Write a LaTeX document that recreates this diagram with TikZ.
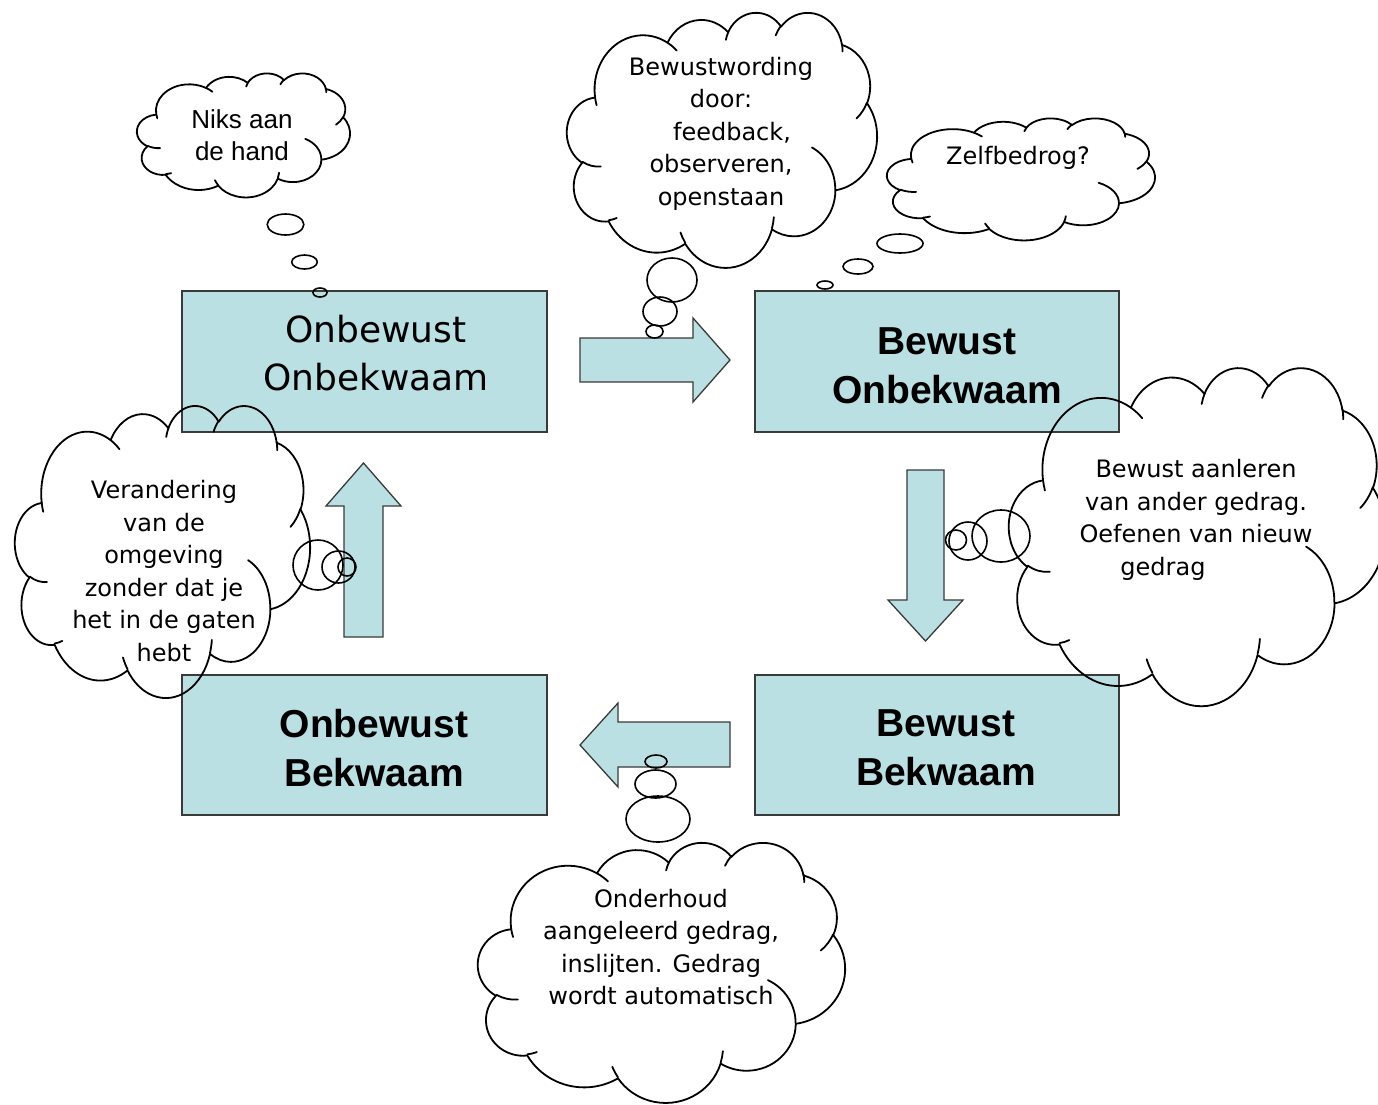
\documentclass[tikz,border=0pt]{standalone}
\usepackage{fontspec}
\setmainfont{DejaVu Sans}
\newfontfamily\arialfont{Liberation Sans}

\definecolor{boxfill}{RGB}{187,224,228}
\definecolor{boxline}{RGB}{58,58,58}

\tikzset{
  % elliptical arc given as radii, start angle and sweep on the ellipse (true angles)
  pp/.code n args={4}{%
    \pgfmathsetmacro\ppS{atan2((#1)*sin(#3),(#2)*cos(#3))}%
    \pgfmathsetmacro\ppE{atan2((#1)*sin((#3)+(#4)),(#2)*cos((#3)+(#4)))}%
    \pgfmathsetmacro\ppD{\ppE-(\ppS)}%
    \pgfmathsetmacro\ppD{\ppD<0 ? \ppD+360 : \ppD}%
    \tikzset{x radius=#1, y radius=#2, start angle=\ppS, delta angle=\ppD}},
  cloudline/.style={draw=black, line width=1.8pt, line join=round},
  bubble/.style={draw=black, line width=1.6pt},
  stagebox/.style={draw=boxline, line width=1.5pt, fill=boxfill, inner sep=0pt},
  blockarrow/.style={draw=boxline, line width=1.3pt, fill=boxfill, line join=miter},
  stagetext/.style={font=\arialfont\bfseries\fontsize{39}{48.5}\selectfont, align=center, inner sep=0pt},
  stagetextlight/.style={font=\fontsize{36}{48}\selectfont, align=center, inner sep=0pt},
  thought/.style={font=\fontsize{24}{32.5}\selectfont, align=center, inner sep=0pt},
  thoughtarial/.style={font=\arialfont\fontsize{26}{32}\selectfont, align=center, inner sep=0pt},
}

% cloud outline with its inner strokes, placed in a box given by left, top, width, height
\newcommand\thoughtcloud[4]{%
  \pgfmathsetmacro\cloudsx{#3/432}%
  \pgfmathsetmacro\cloudsy{#4/432}%
  \begin{scope}[shift={(#1,#2)}, x=\cloudsx pt, y=-\cloudsy pt]
    \draw[cloudline] (39.00,143.70)
      arc[pp={67.53}{91.90}{-190.48748}{123.78053}]
      arc[pp={53.33}{72.67}{-144.10238}{89.94523}]
      arc[pp={43.65}{59.45}{-145.80792}{99.72302}]
      arc[pp={48.57}{65.95}{-130.98607}{117.24173}]
      arc[pp={53.33}{72.73}{-78.70888}{109.02692}]
      arc[pp={67.75}{92.20}{-46.26725}{130.26900}]
      arc[pp={57.85}{78.67}{0.62502}{114.03333}]
      arc[pp={67.52}{92.15}{22.45160}{115.17255}]
      arc[pp={77.20}{105.43}{66.24263}{75.71102}]
      arc[pp={43.60}{59.18}{-274.94208}{146.73557}]
      arc[pp={43.45}{59.45}{-246.82850}{152.51885}]
      -- cycle;
    \draw[cloudline, line cap=round]
      (46.93,261.77) arc[pp={43.45}{59.45}{86.74200}{26.42950}]
      (69.28,348.99) arc[pp={43.60}{59.18}{73.61047}{11.44747}]
      (164.78,390.90) arc[pp={67.52}{92.15}{137.62415}{14.08110}]
      (288.27,347.51) arc[pp={67.52}{92.15}{6.45327}{15.99835}]
      (341.29,229.54) arc[pp={57.85}{78.67}{-70.29235}{70.91737}]
      (417.98,153.54) arc[pp={53.33}{72.73}{30.31803}{27.75150}]
      (383.24,54.26) arc[pp={48.57}{65.95}{-13.74433}{14.85890}]
      (290.78,39.52) arc[pp={48.57}{65.95}{-149.18145}{18.19537}]
      (221.41,47.20) arc[pp={43.65}{59.45}{-163.49427}{17.68635}]
      (140.00,51.92) arc[pp={67.53}{91.90}{-66.70695}{12.31935}]
      (41.27,157.89) arc[pp={67.53}{91.90}{157.65435}{11.85817}];
  \end{scope}}

\begin{document}
\begin{tikzpicture}[x=1pt, y=-1pt]
  \useasboundingbox (0,0) rectangle (1378,1104);
  \fill[white] (0,0) rectangle (1378,1104);

  % the four stages
  \node[stagebox, minimum width=365pt, minimum height=141pt] (oo) at (364.5,361.5) {};
  \node[stagebox, minimum width=364pt, minimum height=141pt] (bo) at (937,361.5) {};
  \node[stagebox, minimum width=365pt, minimum height=140pt] (ob) at (364.5,745) {};
  \node[stagebox, minimum width=364pt, minimum height=140pt] (bb) at (937,745) {};

  \node[stagetextlight] (oot) at (376,353) {Onbewust\\Onbekwaam};
  \node[stagetext] (bot) at (947,366) {Bewust\\Onbekwaam};
  \node[stagetext] (obt) at (374,748) {Onbewust\\Bekwaam};
  \node[stagetext] (bbt) at (946,748) {Bewust\\Bekwaam};

  % block arrows between the stages
  \draw[blockarrow] (580,338) -- (693,338) -- (693,318) -- (730,360)
    -- (693,402) -- (693,382) -- (580,382) -- cycle;
  \draw[blockarrow] (907,470) -- (944,470) -- (944,600) -- (963,600)
    -- (925.5,641) -- (888,600) -- (907,600) -- cycle;
  \draw[blockarrow] (730,722) -- (618,722) -- (618,703) -- (580,745)
    -- (618,787) -- (618,767) -- (730,767) -- cycle;
  \draw[blockarrow] (344,637) -- (344,506) -- (326,506) -- (363.5,463)
    -- (401,506) -- (383,506) -- (383,637) -- cycle;

  % thought clouds
  \thoughtcloud{137}{73}{213}{124}
  \thoughtcloud{567}{12}{310}{255}
  \thoughtcloud{887}{118}{268}{122}
  \thoughtcloud{15}{405}{295}{292}
  \thoughtcloud{1009}{367}{376}{338}
  \thoughtcloud{478}{842}{367}{260}

  % bubbles leading from each cloud
  \draw[bubble] (285.5,224.5) ellipse [x radius=18.3, y radius=10.5];
  \draw[bubble] (304.5,262) ellipse [x radius=12.8, y radius=7];
  \draw[bubble] (320,292.5) ellipse [x radius=7, y radius=4.5];

  \draw[bubble] (672,280) ellipse [x radius=25, y radius=22];
  \draw[bubble] (660,311.5) ellipse [x radius=17, y radius=14.5];
  \draw[bubble] (654.5,331.5) ellipse [x radius=8.5, y radius=6.5];

  \draw[bubble] (900,243.5) ellipse [x radius=23, y radius=9.5];
  \draw[bubble] (858,266.5) ellipse [x radius=15, y radius=7.5];
  \draw[bubble] (825,285) ellipse [x radius=8, y radius=4];

  \draw[bubble] (318,565) ellipse [x radius=25, y radius=25];
  \draw[bubble] (338.5,567) ellipse [x radius=16.5, y radius=16];
  \draw[bubble] (347,567) ellipse [x radius=9, y radius=9];

  \draw[bubble] (1001,536) ellipse [x radius=29, y radius=26];
  \draw[bubble] (968,541) ellipse [x radius=19, y radius=19];
  \draw[bubble] (956,540) ellipse [x radius=10.5, y radius=10];

  \draw[bubble] (656,761.5) ellipse [x radius=11, y radius=6.5];
  \draw[bubble] (655.5,784) ellipse [x radius=20.5, y radius=14];
  \draw[bubble] (658,819) ellipse [x radius=32, y radius=23];

  % cloud texts
  \node[thoughtarial] (niks) at (242,135) {Niks aan\\de hand};
  \node[thought] (bewustwording) at (721,133.5)
    {Bewustwording\\door:\hspace*{32pt}\\\hspace*{22pt}feedback,\\observeren,\\openstaan};
  \node[thought] (zelfbedrog) at (1018,158) {Zelfbedrog?};
  \node[thought] (verandering) at (164,571)
    {Verandering\\van de\\omgeving\\zonder dat je\\het in de gaten\\hebt};
  \node[thought] (aanleren) at (1196,520)
    {Bewust aanleren\\van ander gedrag.\\Oefenen van nieuw\\gedrag\hspace*{66pt}};
  \node[thought] (onderhoud) at (661,947)
    {Onderhoud\\aangeleerd gedrag,\\inslijten. Gedrag\\wordt automatisch};
\end{tikzpicture}
\end{document}
